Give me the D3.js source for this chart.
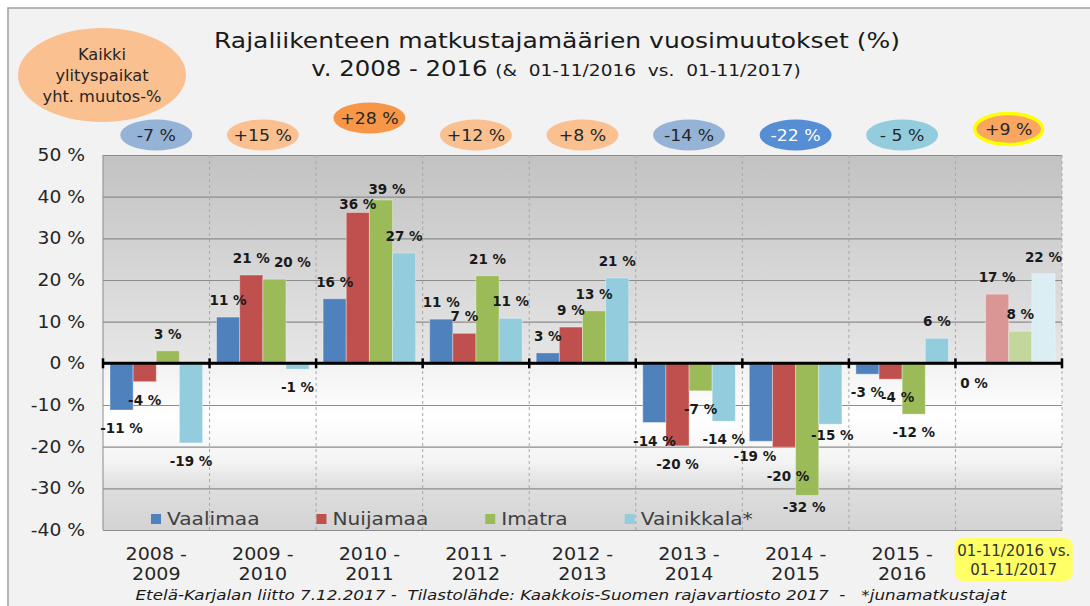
<!DOCTYPE html>
<html>
<head>
<meta charset="utf-8">
<script src="https://cdn.jsdelivr.net/npm/d3@7"></script>
<style>
  body { margin: 0; background: #fff; }
  text { font-family: "DejaVu Sans", Verdana, sans-serif; }
</style>
</head>
<body>
<svg id="chart"></svg>
<script>
const width = 1090;
const height = 606;

// Data

const categories = ['2008 -\n2009', '2009 -\n2010', '2010 -\n2011', '2011 -\n2012', '2012 -\n2013',
    '2013 -\n2014', '2014 -\n2015', '2015 -\n2016', '01-11/2016 vs.\n01-11/2017'];
const seriesNames = ['Vaalimaa', 'Nuijamaa', 'Imatra', 'Vainikkala*'];

const vaalimaa   = [-11.2, 11.1, 15.5, 10.6,  2.5, -14.2, -18.7, -2.6, -0.3];
const nuijamaa   = [ -4.4, 21.2, 36.2,  7.2,  8.7, -19.8, -20.1, -3.8, 16.6];
const imatra     = [  3.0, 20.2, 39.2, 21.0, 12.6,  -6.6, -31.7, -12.2, 7.7];
const vainikkala = [-19.1, -1.4, 26.5, 10.8, 20.5, -13.9, -14.6,  6.0, 21.5];
const seriesValues = [vaalimaa, nuijamaa, imatra, vainikkala];

// total change of all crossing points, one per category
const totalLabels = ['-7 %', '+15 %', '+28 %', '+12 %', '+8 %', '-14 %', '-22 %', '- 5 %', '+9 %'];

const yTicks = [50, 40, 30, 20, 10, 0, -10, -20, -30, -40];

const titleText = 'Rajaliikenteen matkustajamäärien vuosimuutokset (%)';
const subtitleMain = 'v. 2008 - 2016 ';
const subtitleSmall = '(&  01-11/2016  vs.  01-11/2017)';
const headLines = ['Kaikki', 'ylityspaikat', 'yht. muutos-%'];
const footerText = 'Etelä-Karjalan liitto 7.12.2017 -  Tilastolähde: Kaakkois-Suomen rajavartiosto 2017  -   *junamatkustajat';

// Style

const colors = ['#4F81BD', '#C0504D', '#9BBB59', '#93CDDD'];
const paleColors = ['#B9CDE5', '#D99694', '#C3D69B', '#DBEEF4'];
const bubbleFill = ['#95B3D7', '#FAC090', '#F79646', '#FAC090', '#FAC090', '#95B3D7', '#558ED5', '#93CDDD', '#F8A660'];
const bubbleRaise = {2: 17, 8: 6};
const labelNudge = {'1-2': [18, 0], '2-1': [0, 8], '2-2': [6, 6], '6-0': [-6, -3], '6-1': [4, 11],
    '6-2': [-3, -6], '6-3': [2, -7], '7-1': [7, 0]};

const plot = {left: 103, right: 1062, top: 155, bottom: 530};

const svg = d3.select('#chart')
    .attr('width', width)
    .attr('height', height);

// stretch text a little wider, the original picture is wide
function stretch(sel, k = 1.12) {
    sel.each(function() {
        const w = this.getComputedTextLength();
        d3.select(this).attr('textLength', w * k).attr('lengthAdjust', 'spacingAndGlyphs');
    });
}

// Background

svg.append('rect')
    .attr('x', 8).attr('y', 8)
    .attr('width', width + 20).attr('height', height + 20)
    .attr('fill', '#F2F2F2')
    .attr('stroke', '#A0A0A0')
    .attr('stroke-width', 1.5);

const defs = svg.append('defs');
const grad = defs.append('linearGradient')
    .attr('id', 'plotFill')
    .attr('x1', 0).attr('y1', 0).attr('x2', 0).attr('y2', 1);
[[0, '#C2C2C2'], [0.553, '#E6E6E6'], [0.56, '#F2F2F2'], [0.7, '#FFFFFF'],
 [0.82, '#F3F3F3'], [0.89, '#DEDEDE'], [1, '#D3D3D3']]
    .forEach(([o, c]) => grad.append('stop').attr('offset', o).attr('stop-color', c));

svg.append('rect')
    .attr('x', plot.left).attr('y', plot.top)
    .attr('width', plot.right - plot.left)
    .attr('height', plot.bottom - plot.top)
    .attr('fill', 'url(#plotFill)');

// Scales

const x = d3.scaleBand()
    .domain(categories)
    .range([plot.left, plot.right])
    .padding(0);

const xi = d3.scaleBand()
    .domain(seriesNames)
    .range([7, x.bandwidth() - 7]);

const y = d3.scaleLinear()
    .domain([-40, 50])
    .range([plot.bottom, plot.top]);

// Grid

const grid = svg.append('g')
    .attr('transform', `translate(${plot.left},0)`)
    .call(d3.axisLeft(y).tickValues(yTicks).tickSize(-(plot.right - plot.left)).tickFormat(''));
grid.select('.domain').remove();
grid.selectAll('line').attr('stroke', '#8C8C8C').attr('stroke-width', 1.2);

svg.append('g')
    .selectAll('line')
    .data(categories)
    .join('line')
    .attr('x1', d => x(d) + x.bandwidth())
    .attr('x2', d => x(d) + x.bandwidth())
    .attr('y1', plot.top)
    .attr('y2', plot.bottom)
    .attr('stroke', '#A8A8A8')
    .attr('stroke-dasharray', '3,3');

svg.append('line')
    .attr('x1', plot.left).attr('x2', plot.left)
    .attr('y1', plot.top).attr('y2', plot.bottom)
    .attr('stroke', '#8C8C8C');

// Y axis

const yAxis = d3.axisLeft(y)
    .tickValues(yTicks)
    .tickSize(0)
    .tickPadding(18)
    .tickFormat(d => `${d} %`);

const gy = svg.append('g')
    .attr('transform', `translate(${plot.left},0)`)
    .call(yAxis);
gy.select('.domain').remove();
gy.selectAll('text')
    .attr('font-family', 'DejaVu Sans')
    .attr('font-size', 17)
    .attr('fill', '#262626')
    .call(stretch, 1.1);

// Bars

const last = categories.length - 1;
const rows = categories.map((c, i) => ({
    cat: c,
    i: i,
    values: seriesNames.map((s, j) => ({series: s, j: j, i: i, v: seriesValues[j][i]}))
}));

const groups = svg.append('g')
    .selectAll('g')
    .data(rows)
    .join('g')
    .attr('transform', d => `translate(${x(d.cat)},0)`);

groups.selectAll('rect')
    .data(d => d.values)
    .join('rect')
    .attr('x', d => xi(d.series))
    .attr('width', xi.bandwidth())
    .attr('y', d => y(Math.max(0, d.v)))
    .attr('height', d => Math.abs(y(d.v) - y(0)))
    .attr('fill', d => d.i === last ? paleColors[d.j] : colors[d.j])
    .attr('stroke', 'rgba(255,255,255,0.35)')
    .attr('stroke-width', 1);

const fmt = v => `${Math.sign(v) * Math.round(Math.abs(v))} %`;

groups.selectAll('text')
    .data(d => d.values)
    .join('text')
    .attr('x', d => xi(d.series) + xi.bandwidth() / 2 + (labelNudge[`${d.i}-${d.j}`] || [0, 0])[0])
    .attr('y', d => (d.v > 0 ? y(d.v) - 12 : y(d.v) + 23) + (labelNudge[`${d.i}-${d.j}`] || [0, 0])[1])
    .attr('text-anchor', 'middle')
    .attr('font-size', 13.5)
    .attr('font-weight', 'bold')
    .attr('fill', '#1a1a1a')
    .text(d => fmt(d.v));

// Zero axis with ticks at category edges

svg.append('line')
    .attr('x1', plot.left).attr('x2', plot.right)
    .attr('y1', y(0)).attr('y2', y(0))
    .attr('stroke', '#000')
    .attr('stroke-width', 3);

svg.append('g')
    .selectAll('line')
    .data([x(categories[0])].concat(categories.map(c => x(c) + x.bandwidth())))
    .join('line')
    .attr('x1', d => d).attr('x2', d => d)
    .attr('y1', y(0) - 5).attr('y2', y(0) + 5)
    .attr('stroke', '#000')
    .attr('stroke-width', 2.5);

// X labels

categories.forEach((c, i) => {
    const cx = x(c) + x.bandwidth() / 2;
    const lines = c.split('\n');
    if (i === last) {
        svg.append('rect')
            .attr('x', cx - 54).attr('y', 538)
            .attr('width', 118).attr('height', 43)
            .attr('rx', 8)
            .attr('fill', '#FFFF66');
        lines.forEach((l, k) => {
            svg.append('text')
                .attr('x', cx + 5).attr('y', 556 + k * 19)
                .attr('text-anchor', 'middle')
                .attr('font-family', 'Lato')
                .attr('font-size', 15)
                .attr('fill', '#333')
                .text(l);
        });
    } else {
        lines.forEach((l, k) => {
            svg.append('text')
                .attr('x', cx).attr('y', 560 + k * 20)
                .attr('text-anchor', 'middle')
                .attr('font-size', 17)
                .attr('fill', '#262626')
                .style('white-space', 'pre')
                .text(l)
                .call(stretch, 1.12);
        });
    }
});

// Legend

const legend = svg.append('g');
let lx = 151;
seriesNames.forEach((s, j) => {
    legend.append('rect')
        .attr('x', lx).attr('y', 514)
        .attr('width', 10).attr('height', 10)
        .attr('fill', colors[j]);
    const t = legend.append('text')
        .attr('x', lx + 16).attr('y', 525)
        .attr('font-size', 18)
        .attr('fill', '#404040')
        .text(s);
    const w = t.node().getComputedTextLength() * 1.12;
    t.attr('textLength', w).attr('lengthAdjust', 'spacingAndGlyphs');
    lx += 16 + w + 57;
});

// Total change bubbles

categories.forEach((c, i) => {
    const cx = x(c) + x.bandwidth() / 2;
    const cy = 135 - (bubbleRaise[i] || 0);
    svg.append('ellipse')
        .attr('cx', cx).attr('cy', cy)
        .attr('rx', i === 8 ? 34 : 36).attr('ry', 15.5)
        .attr('fill', bubbleFill[i])
        .attr('stroke', i === 8 ? '#FFFF00' : 'none')
        .attr('stroke-width', 3.5);
    svg.append('text')
        .attr('x', cx).attr('y', cy + 6)
        .attr('text-anchor', 'middle')
        .attr('font-family', 'Lato')
        .attr('font-size', 16)
        .attr('fill', i === 6 ? '#fff' : '#262626')
        .style('white-space', 'pre')
        .text(totalLabels[i])
        .call(stretch, 1.08);
});

svg.append('ellipse')
    .attr('cx', 102).attr('cy', 75)
    .attr('rx', 84).attr('ry', 47)
    .attr('fill', '#FAC090');

headLines.forEach((l, k) => {
    svg.append('text')
        .attr('x', 102).attr('y', 60 + k * 21)
        .attr('text-anchor', 'middle')
        .attr('font-family', 'Lato')
        .attr('font-size', 15)
        .attr('fill', '#262626')
        .text(l)
        .call(stretch, 1.08);
});

// Title

svg.append('text')
    .attr('x', 557).attr('y', 48)
    .attr('text-anchor', 'middle')
    .attr('font-size', 21)
    .attr('fill', '#1a1a1a')
    .attr('textLength', 686)
    .attr('lengthAdjust', 'spacingAndGlyphs')
    .text(titleText);

const sub = svg.append('g')
    .attr('transform', 'translate(556,76) scale(1.16,1)')
    .append('text')
    .attr('text-anchor', 'middle')
    .attr('fill', '#1a1a1a')
    .style('white-space', 'pre');
sub.append('tspan').attr('font-size', 21).text(subtitleMain);
sub.append('tspan').attr('font-size', 16).text(subtitleSmall);

// Footer

svg.append('text')
    .attr('x', 571).attr('y', 600)
    .attr('text-anchor', 'middle')
    .attr('font-size', 14)
    .attr('font-style', 'italic')
    .attr('fill', '#1a1a1a')
    .attr('textLength', 871)
    .attr('lengthAdjust', 'spacingAndGlyphs')
    .style('white-space', 'pre')
    .text(footerText);
</script>
</body>
</html>
